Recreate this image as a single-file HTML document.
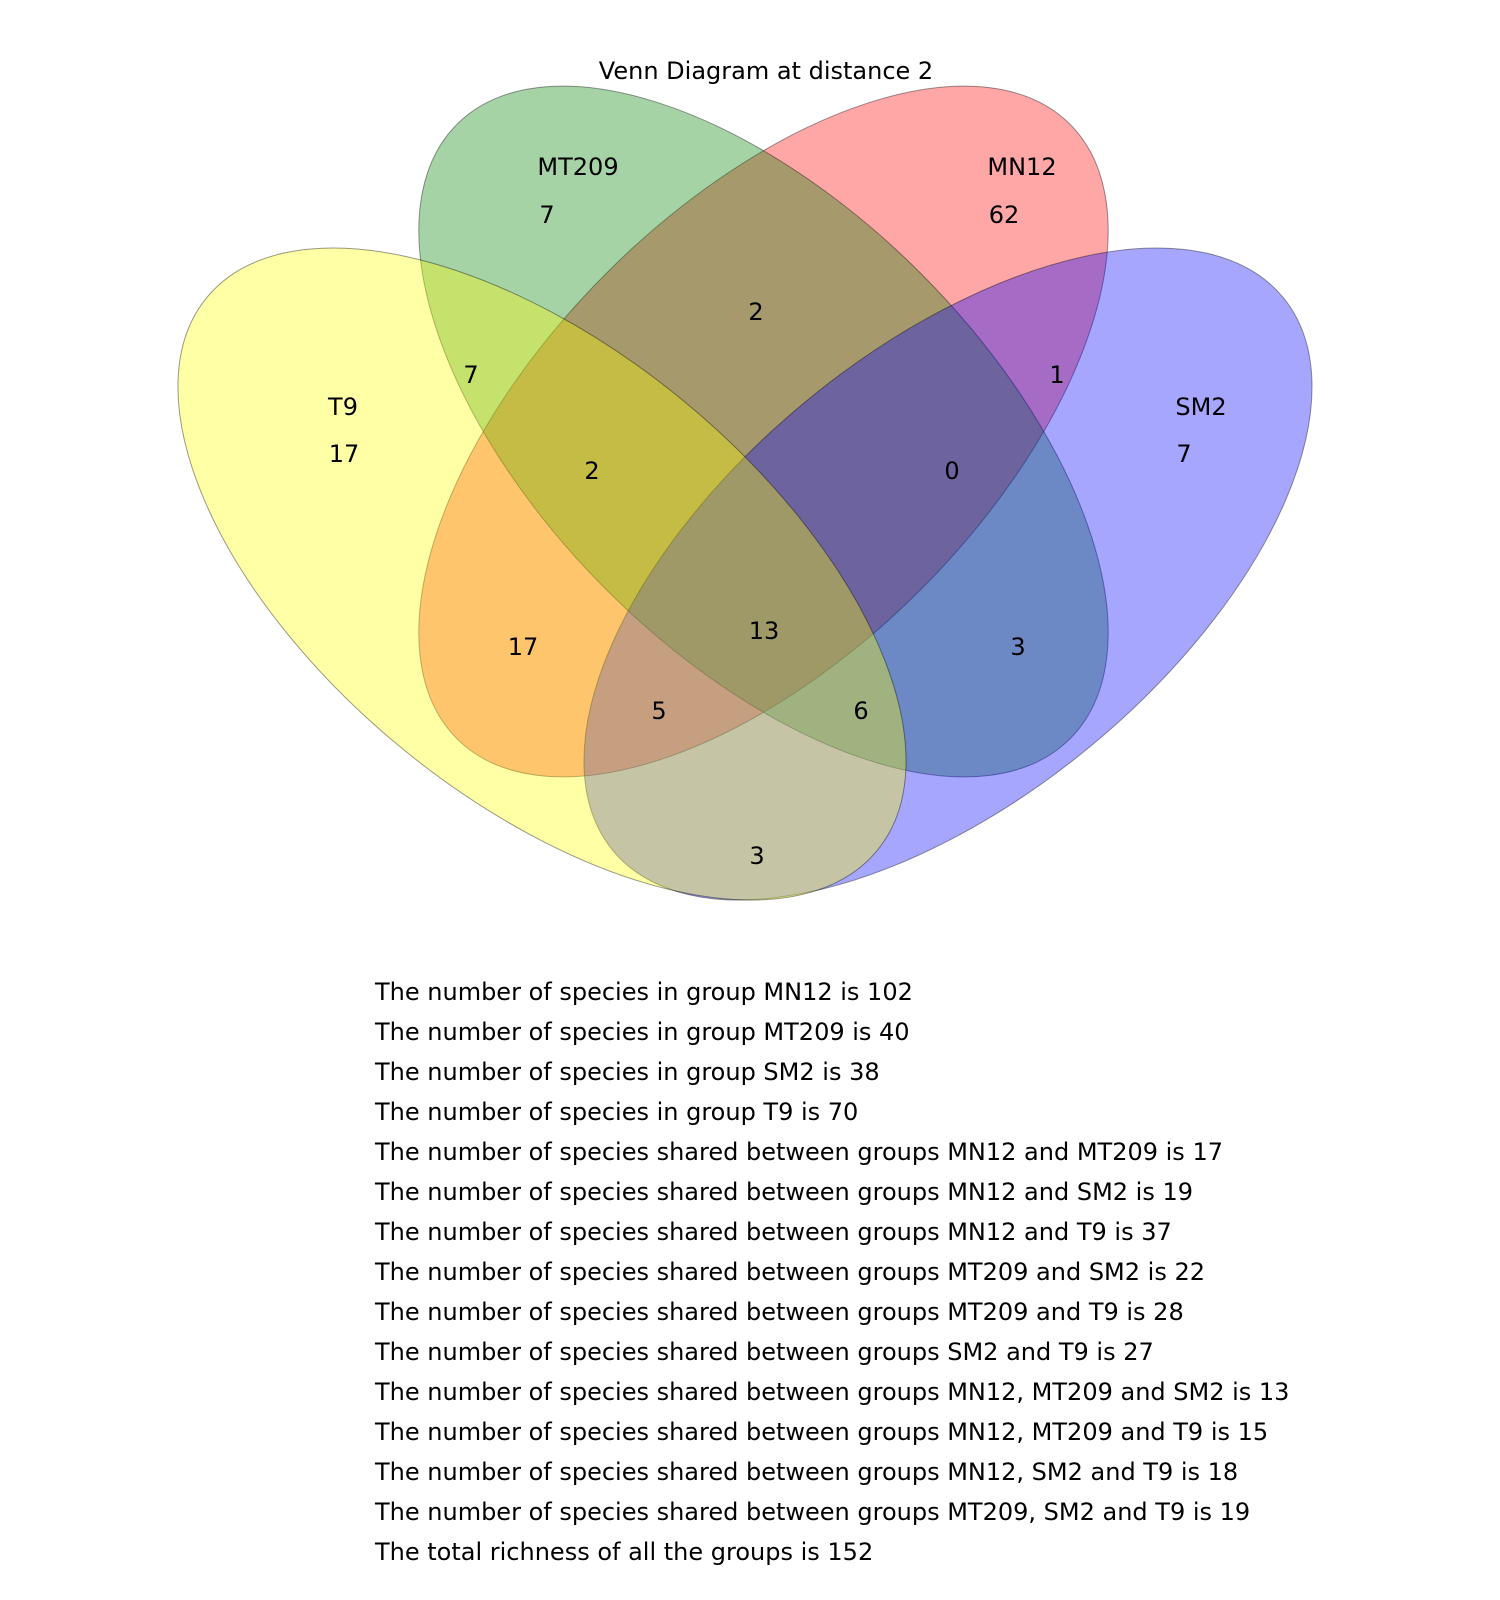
<!DOCTYPE html>
<html>
<head>
<meta charset="utf-8">
<style>
html,body{margin:0;padding:0;background:#fff;}
svg{display:block;}
text{font-family:"DejaVu Sans","Liberation Sans",sans-serif;font-size:24px;fill:#000;}
</style>
</head>
<body>
<svg width="1500" height="1600" viewBox="0 0 1500 1600" xmlns="http://www.w3.org/2000/svg">
<rect width="1500" height="1600" fill="#fff"/>
<g stroke="#000" stroke-opacity="0.4" stroke-width="1">
<ellipse cx="0" cy="0" rx="434" ry="223" transform="translate(763.5,431.5) rotate(-45.1)" fill="rgb(255,0,0)" fill-opacity="0.35"/>
<ellipse cx="0" cy="0" rx="434" ry="223" transform="translate(763.5,431.5) rotate(45.1)" fill="rgb(0,128,0)" fill-opacity="0.35"/>
<ellipse cx="0" cy="0" rx="434.5" ry="223.6" transform="translate(948,574) rotate(-39.55)" fill="rgb(0,0,255)" fill-opacity="0.35"/>
<ellipse cx="0" cy="0" rx="434.5" ry="223.6" transform="translate(542,574) rotate(39.55)" fill="rgb(255,255,0)" fill-opacity="0.35"/>
</g>
<g text-anchor="middle" dominant-baseline="central">
<text x="766" y="71">Venn Diagram at distance 2</text>
<text x="578" y="167">MT209</text>
<text x="547" y="215">7</text>
<text x="1022" y="167">MN12</text>
<text x="1004" y="215">62</text>
<text x="756" y="312">2</text>
<text x="471" y="375">7</text>
<text x="1057" y="375">1</text>
<text x="343" y="407">T9</text>
<text x="344" y="454">17</text>
<text x="1201" y="407">SM2</text>
<text x="1184" y="454">7</text>
<text x="592" y="471">2</text>
<text x="952" y="471">0</text>
<text x="764" y="631">13</text>
<text x="523" y="647">17</text>
<text x="1018" y="647">3</text>
<text x="659" y="711">5</text>
<text x="861" y="711">6</text>
<text x="757" y="856">3</text>
</g>
<g dominant-baseline="central">
<text x="375" y="992">The number of species in group MN12 is 102</text>
<text x="375" y="1032">The number of species in group MT209 is 40</text>
<text x="375" y="1072">The number of species in group SM2 is 38</text>
<text x="375" y="1112">The number of species in group T9 is 70</text>
<text x="375" y="1152">The number of species shared between groups MN12 and MT209 is 17</text>
<text x="375" y="1192">The number of species shared between groups MN12 and SM2 is 19</text>
<text x="375" y="1232">The number of species shared between groups MN12 and T9 is 37</text>
<text x="375" y="1272">The number of species shared between groups MT209 and SM2 is 22</text>
<text x="375" y="1312">The number of species shared between groups MT209 and T9 is 28</text>
<text x="375" y="1352">The number of species shared between groups SM2 and T9 is 27</text>
<text x="375" y="1392">The number of species shared between groups MN12, MT209 and SM2 is 13</text>
<text x="375" y="1432">The number of species shared between groups MN12, MT209 and T9 is 15</text>
<text x="375" y="1472">The number of species shared between groups MN12, SM2 and T9 is 18</text>
<text x="375" y="1512">The number of species shared between groups MT209, SM2 and T9 is 19</text>
<text x="375" y="1552">The total richness of all the groups is 152</text>
</g>
</svg>
</body>
</html>
